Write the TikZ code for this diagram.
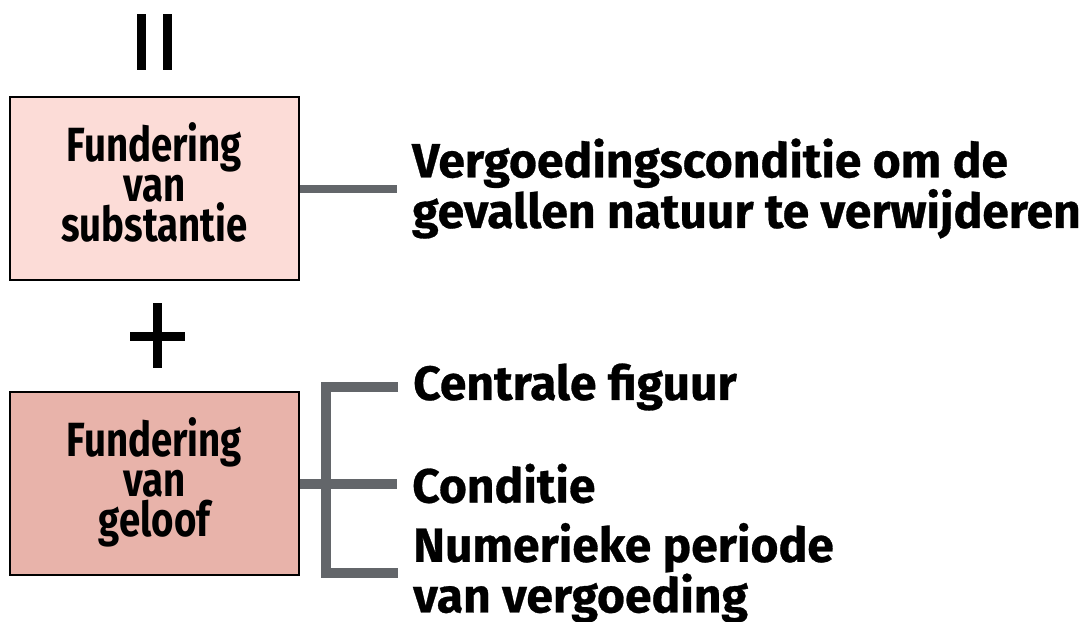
\documentclass[tikz,border=0pt]{standalone}
\usepackage{fontspec}
\setmainfont{Fira Sans}
\newfontfamily\boxfont{Fira Sans}[FakeStretch=0.8]
\newfontfamily\sidefont{Fira Sans}[FakeBold=0.6]
\usetikzlibrary{positioning}
\definecolor{substfill}{HTML}{FCDCD7}
\definecolor{geloffill}{HTML}{E8B3AA}
\definecolor{linkgray}{HTML}{63666A}
\tikzset{
  found/.style={draw=black, line width=2, minimum width=289, minimum height=183,
    align=center, inner sep=0pt, text depth=12,
    font=\boxfont\bfseries\fontsize{48}{40}\selectfont},
  side/.style={anchor=west, align=left, inner xsep=15, inner ysep=0,
    font=\sidefont\bfseries\fontsize{48}{42}\selectfont},
  link/.style={draw=linkgray, line width=10},
  sign/.style={draw=black, line width=9}
}

\begin{document}
\begin{tikzpicture}[x=1pt,y=-1pt]
  \useasboundingbox (0,0) rectangle (1084,621);
  \node (subst) [found, fill=substfill] at (154.5,188.5) {Fundering\\van\\substantie};
  \node (geloof) [found, fill=geloffill] at (154.5,483.5) {Fundering\\van\\geloof};
  \node (verg) [side, right=97 of subst] {Vergoedingsconditie om de\\gevallen natuur te verwijderen};
  \node (cond) [side, right=97 of geloof] {Conditie};
  \node (centr) [side] at (398,387) {Centrale figuur};
  \node (numer) [side] at (398,573) {Numerieke periode\\van vergoeding};
  \coordinate (bar) at (326,483.5);
  % = en + tussen de blokken
  \draw[sign] (141.5,14) -- (141.5,70) (167,14) -- (167,70);
  \draw[sign] (130,336) -- (185,336) (157,303) -- (157,368);
  \draw[link, line width=8] (subst) -- (verg);
  \draw[link] (geloof) -- (cond);
  \draw[link] (centr.west) -| (bar) |- (numer.west);
\end{tikzpicture}
\end{document}
